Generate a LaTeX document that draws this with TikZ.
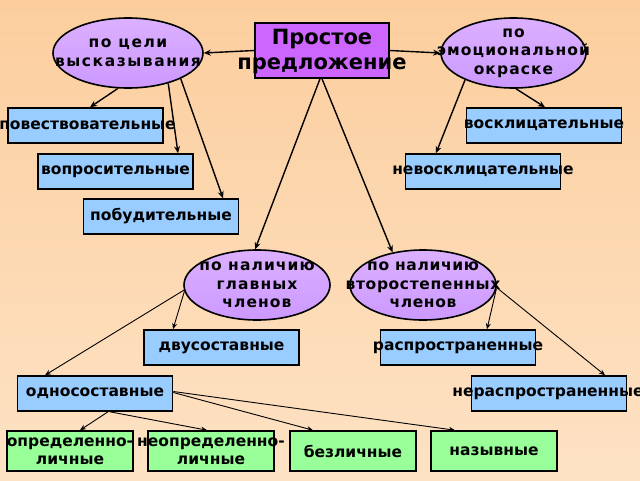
\documentclass[tikz,border=0pt]{standalone}
\usepackage{fontspec}
\setmainfont{DejaVu Sans}
\newfontfamily\spacedA[LetterSpace=10]{DejaVu Sans}
\newfontfamily\spacedB[LetterSpace=7]{DejaVu Sans}
\newfontfamily\spacedC[LetterSpace=4]{DejaVu Sans}
\usetikzlibrary{shapes.geometric,arrows.meta}
\definecolor{bgtop}{RGB}{252,206,158}
\definecolor{bgbot}{RGB}{253,226,196}
\definecolor{elfill}{RGB}{204,153,255}
\definecolor{eltop}{RGB}{220,176,255}
\definecolor{titlefill}{RGB}{204,102,255}
\definecolor{bluefill}{RGB}{153,204,255}
\definecolor{greenfill}{RGB}{153,255,153}
\tikzset{
  oval/.style={ellipse,draw=black,line width=1.6pt,inner sep=0pt,top color=eltop,bottom color=elfill},
  ovaltext/.style={align=center,inner sep=0pt},
  titlebox/.style={rectangle,draw=black,line width=1.6pt,fill=titlefill,inner sep=0pt,
    minimum width=134pt,minimum height=55pt},
  titletext/.style={align=center,inner sep=0pt,font=\bfseries\fontsize{21}{25}\selectfont},
  bluebox/.style={rectangle,draw=black,line width=1.6pt,fill=bluefill,inner sep=0pt,
    minimum width=155pt,minimum height=35pt},
  greenbox/.style={rectangle,draw=black,line width=1.6pt,fill=greenfill,inner sep=0pt,
    minimum width=126pt,minimum height=40pt},
  boxtext/.style={align=center,inner sep=0pt,font=\bfseries\fontsize{15.5}{18}\selectfont},
  bigarr/.style={line width=1.4pt,-{Stealth[length=7pt,width=6pt]}},
  smallarr/.style={line width=0.9pt,-{Stealth[length=6pt,width=5pt]}},
}
\begin{document}
\begin{tikzpicture}[x=1pt,y=-1pt]
\shade[top color=bgtop,bottom color=bgbot] (0,0) rectangle (640,480);
\useasboundingbox (0,0) rectangle (640,480);

\node[titlebox,label={[titletext,yshift=-1.5pt]center:{Простое\\предложение}}] (title) at (322,50.5) {};
\node[oval,minimum width=150pt,minimum height=70pt,
  label={[ovaltext,font=\bfseries\fontsize{15.5}{18.5}\selectfont\spacedA]center:{по цели\\высказывания}}] (goal) at (128,53) {};
\node[oval,minimum width=145pt,minimum height=70pt,
  label={[ovaltext,font=\bfseries\fontsize{15.5}{18.5}\selectfont\spacedB]center:{по\\эмоциональной\\окраске}}] (emo) at (513.5,53) {};

\node[bluebox,label={[boxtext,xshift=2pt]center:повествовательные}] (povest) at (85.5,125.5) {};
\node[bluebox,label={[boxtext]center:вопросительные}] (vopros) at (115.5,171.5) {};
\node[bluebox,label={[boxtext]center:побудительные}] (pobud) at (161,216.5) {};
\node[bluebox,label={[boxtext]center:восклицательные}] (voskl) at (544,125.5) {};
\node[bluebox,label={[boxtext]center:невосклицательные}] (nevoskl) at (483,171.5) {};

\node[oval,minimum width=146pt,minimum height=70pt,
  label={[ovaltext,font=\bfseries\fontsize{15.5}{18.5}\selectfont\spacedB]center:{по наличию\\главных\\членов}}] (main) at (257,285) {};
\node[oval,minimum width=146pt,minimum height=70pt,
  label={[ovaltext,font=\bfseries\fontsize{15.5}{18.5}\selectfont\spacedC]center:{по наличию\\второстепенных\\членов}}] (sec) at (423,285) {};

\node[bluebox,label={[boxtext]center:двусоставные}] (dvu) at (221.5,347.5) {};
\node[bluebox,label={[boxtext]center:распространенные}] (rasp) at (458,347.5) {};
\node[bluebox,label={[boxtext]center:односоставные}] (odno) at (95,393.5) {};
\node[bluebox,label={[boxtext,xshift=-1pt]center:нераспространенные}] (nerasp) at (549,393.5) {};

\node[greenbox,label={[boxtext]center:{определенно-\\личные}}] (opred) at (70,451) {};
\node[greenbox,label={[boxtext]center:{неопределенно-\\личные}}] (neopred) at (211,451) {};
\node[greenbox,label={[boxtext]center:безличные}] (bezl) at (353,451) {};
\node[greenbox,label={[boxtext]center:назывные}] (nazyv) at (494,451) {};

\draw[bigarr] (title.west) -- (goal.east);
\draw[bigarr] (title.east) -- (emo.west);
\draw[bigarr] ([xshift=-2pt]title.south) -- (main.93);
\draw[bigarr] (title.south) -- (sec.133);

\draw[bigarr] (goal.254) -- ([xshift=4.5pt]povest.north);
\draw[bigarr] (goal.-37) -- ([xshift=62.5pt]vopros.north);
\draw[bigarr] (goal.-26) -- ([xshift=62pt]pobud.north);
\draw[bigarr] (emo.209) -- ([xshift=-47pt]nevoskl.north);
\draw[bigarr] (emo.274) -- ([xshift=1pt]voskl.north);

\draw[smallarr] (main.184) -- ([xshift=-50pt]odno.north);
\draw[smallarr] (main.185) -- ([xshift=-48.5pt]dvu.north);
\draw[smallarr] (sec.357) -- ([xshift=29pt]rasp.north);
\draw[smallarr] (sec.358) -- ([xshift=56pt]nerasp.north);

\draw[smallarr] ([xshift=13pt]odno.south) -- ([xshift=10pt]opred.north);
\draw[smallarr] ([xshift=15pt]odno.south) -- ([xshift=-4pt]neopred.north);
\draw[smallarr] ([yshift=1pt]odno.east) -- ([xshift=-40pt]bezl.north);
\draw[smallarr] ([yshift=2pt]odno.east) -- ([xshift=-39pt]nazyv.north);
\end{tikzpicture}
\end{document}
